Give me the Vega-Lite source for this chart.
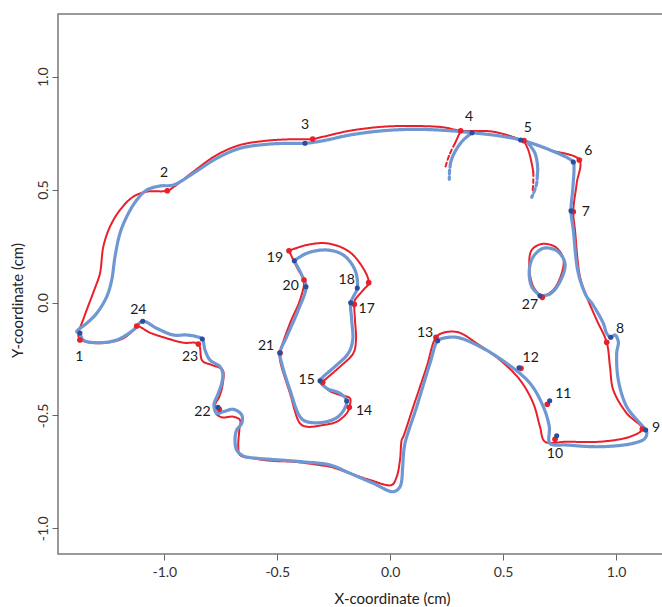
{
"$schema":"https://vega.github.io/schema/vega-lite/v6.json",
"width":605,"height":540,
"autosize":{"type":"none"},
"padding":{"left":58,"top":14,"right":0,"bottom":53},
"background":"white",
"config":{"view":{"stroke":"#7a7a7a","strokeWidth":1.5},"font":"Lato"},
"datasets":{
"lines":[
{"g":"red","k":"ro","d":"solid","x":-1.3739,"y":-0.1661},{"g":"red","k":"ro","d":"solid","x":-1.381,"y":-0.1439},{"g":"red","k":"ro","d":"solid","x":-1.3547,"y":-0.0629},{"g":"red","k":"ro","d":"solid","x":-1.3104,"y":0.0554},{"g":"red","k":"ro","d":"solid","x":-1.2849,"y":0.1293},{"g":"red","k":"ro","d":"solid","x":-1.2703,"y":0.2471},{"g":"red","k":"ro","d":"solid","x":-1.2407,"y":0.3357},{"g":"red","k":"ro","d":"solid","x":-1.1964,"y":0.4097},{"g":"red","k":"ro","d":"solid","x":-1.1375,"y":0.4686},{"g":"red","k":"ro","d":"solid","x":-1.0781,"y":0.4907},{"g":"red","k":"ro","d":"solid","x":-0.9869,"y":0.4951},{"g":"red","k":"ro","d":"solid","x":-0.9528,"y":0.5159},{"g":"red","k":"ro","d":"solid","x":-0.8718,"y":0.5793},{"g":"red","k":"ro","d":"solid","x":-0.7682,"y":0.6532},{"g":"red","k":"ro","d":"solid","x":-0.665,"y":0.6975},{"g":"red","k":"ro","d":"solid","x":-0.5468,"y":0.7166},{"g":"red","k":"ro","d":"solid","x":-0.4437,"y":0.7228},{"g":"red","k":"ro","d":"solid","x":-0.3431,"y":0.7241},{"g":"red","k":"ro","d":"solid","x":-0.2962,"y":0.7343},{"g":"red","k":"ro","d":"solid","x":-0.178,"y":0.7608},{"g":"red","k":"ro","d":"solid","x":-0.0306,"y":0.7786},{"g":"red","k":"ro","d":"solid","x":0.1173,"y":0.7817},{"g":"red","k":"ro","d":"solid","x":0.2351,"y":0.7759},{"g":"red","k":"ro","d":"solid","x":0.3122,"y":0.7608},{"g":"red","k":"ro","d":"solid","x":0.4565,"y":0.7564},{"g":"red","k":"ro","d":"solid","x":0.5924,"y":0.7166},{"g":"red","k":"ro","d":"solid","x":0.7076,"y":0.6754},{"g":"red","k":"ro","d":"solid","x":0.8373,"y":0.6311},{"g":"red","k":"ro","d":"solid","x":0.8258,"y":0.5279},{"g":"red","k":"ro","d":"solid","x":0.8107,"y":0.4021},{"g":"red","k":"ro","d":"solid","x":0.8182,"y":0.3211},{"g":"red","k":"ro","d":"solid","x":0.8404,"y":0.1143},{"g":"red","k":"ro","d":"solid","x":0.87,"y":0.0257},{"g":"red","k":"ro","d":"solid","x":0.9143,"y":-0.0775},{"g":"red","k":"ro","d":"solid","x":0.9586,"y":-0.1763},{"g":"red","k":"ro","d":"solid","x":0.9732,"y":-0.2843},{"g":"red","k":"ro","d":"solid","x":0.9878,"y":-0.3875},{"g":"red","k":"ro","d":"solid","x":1.0472,"y":-0.4907},{"g":"red","k":"ro","d":"solid","x":1.1162,"y":-0.5602},{"g":"red","k":"ro","d":"solid","x":1.0618,"y":-0.5943},{"g":"red","k":"ro","d":"solid","x":0.9289,"y":-0.6165},{"g":"red","k":"ro","d":"solid","x":0.7815,"y":-0.6165},{"g":"red","k":"ro","d":"solid","x":0.6854,"y":-0.6165},{"g":"red","k":"ro","d":"solid","x":0.6632,"y":-0.55},{"g":"red","k":"ro","d":"solid","x":0.6336,"y":-0.4464},{"g":"red","k":"ro","d":"solid","x":0.5747,"y":-0.3432},{"g":"red","k":"ro","d":"solid","x":0.4862,"y":-0.2547},{"g":"red","k":"ro","d":"solid","x":0.383,"y":-0.1807},{"g":"red","k":"ro","d":"solid","x":0.3015,"y":-0.132},{"g":"red","k":"ro","d":"solid","x":0.2351,"y":-0.1337},{"g":"red","k":"ro","d":"solid","x":0.2028,"y":-0.1541},{"g":"red","k":"ro","d":"solid","x":0.1616,"y":-0.2843},{"g":"red","k":"ro","d":"solid","x":0.1023,"y":-0.4615},{"g":"red","k":"ro","d":"solid","x":0.058,"y":-0.5943},{"g":"red","k":"ro","d":"solid","x":0.0509,"y":-0.609},{"g":"red","k":"ro","d":"solid","x":0.0434,"y":-0.6975},{"g":"red","k":"ro","d":"solid","x":0.0288,"y":-0.7715},{"g":"red","k":"ro","d":"solid","x":0.0066,"y":-0.8082},{"g":"red","k":"ro","d":"solid","x":-0.0894,"y":-0.7861},{"g":"red","k":"ro","d":"solid","x":-0.178,"y":-0.7564},{"g":"red","k":"ro","d":"solid","x":-0.2665,"y":-0.7272},{"g":"red","k":"ro","d":"solid","x":-0.3086,"y":-0.7205},{"g":"red","k":"ro","d":"solid","x":-0.4206,"y":-0.7059},{"g":"red","k":"ro","d":"solid","x":-0.5322,"y":-0.7006},{"g":"red","k":"ro","d":"solid","x":-0.6062,"y":-0.69},{"g":"red","k":"ro","d":"solid","x":-0.665,"y":-0.6754},{"g":"red","k":"ro","d":"solid","x":-0.6726,"y":-0.6386},{"g":"red","k":"ro","d":"solid","x":-0.6681,"y":-0.5647},{"g":"red","k":"ro","d":"solid","x":-0.665,"y":-0.5204},{"g":"red","k":"ro","d":"solid","x":-0.6947,"y":-0.5058},{"g":"red","k":"ro","d":"solid","x":-0.7461,"y":-0.5084},{"g":"red","k":"ro","d":"solid","x":-0.7713,"y":-0.4907},{"g":"red","k":"ro","d":"solid","x":-0.7757,"y":-0.4539},{"g":"red","k":"ro","d":"solid","x":-0.7567,"y":-0.4172},{"g":"red","k":"ro","d":"solid","x":-0.7416,"y":-0.3609},{"g":"red","k":"ro","d":"solid","x":-0.7416,"y":-0.2989},{"g":"red","k":"ro","d":"solid","x":-0.789,"y":-0.2768},{"g":"red","k":"ro","d":"solid","x":-0.832,"y":-0.2578},{"g":"red","k":"ro","d":"solid","x":-0.8497,"y":-0.1838},{"g":"red","k":"ro","d":"solid","x":-0.9161,"y":-0.178},{"g":"red","k":"ro","d":"solid","x":-0.9896,"y":-0.1585},{"g":"red","k":"ro","d":"solid","x":-1.0635,"y":-0.1337},{"g":"red","k":"ro","d":"solid","x":-1.1224,"y":-0.1041},{"g":"red","k":"ro","d":"solid","x":-1.1375,"y":-0.1218},{"g":"red","k":"ro","d":"solid","x":-1.1818,"y":-0.1585},{"g":"red","k":"ro","d":"solid","x":-1.2553,"y":-0.178},{"g":"red","k":"ro","d":"solid","x":-1.3292,"y":-0.178},{"g":"red","k":"ro","d":"solid","x":-1.3739,"y":-0.1661},
{"g":"red","k":"ri","d":"solid","x":-0.4481,"y":0.2294},{"g":"red","k":"ri","d":"solid","x":-0.3697,"y":0.2546},{"g":"red","k":"ri","d":"solid","x":-0.2812,"y":0.2622},{"g":"red","k":"ri","d":"solid","x":-0.1926,"y":0.2325},{"g":"red","k":"ri","d":"solid","x":-0.1337,"y":0.1736},{"g":"red","k":"ri","d":"solid","x":-0.0952,"y":0.0877},{"g":"red","k":"ri","d":"solid","x":-0.1191,"y":0.0554},{"g":"red","k":"ri","d":"solid","x":-0.1559,"y":0.0111},{"g":"red","k":"ri","d":"solid","x":-0.159,"y":-0.008},{"g":"red","k":"ri","d":"solid","x":-0.1559,"y":-0.0775},{"g":"red","k":"ri","d":"solid","x":-0.1514,"y":-0.1661},{"g":"red","k":"ri","d":"solid","x":-0.1634,"y":-0.225},{"g":"red","k":"ri","d":"solid","x":-0.2223,"y":-0.2843},{"g":"red","k":"ri","d":"solid","x":-0.2812,"y":-0.3357},{"g":"red","k":"ri","d":"solid","x":-0.2989,"y":-0.3534},{"g":"red","k":"ri","d":"solid","x":-0.2741,"y":-0.3875},{"g":"red","k":"ri","d":"solid","x":-0.2223,"y":-0.4097},{"g":"red","k":"ri","d":"solid","x":-0.178,"y":-0.4243},{"g":"red","k":"ri","d":"solid","x":-0.1811,"y":-0.4641},{"g":"red","k":"ri","d":"solid","x":-0.1926,"y":-0.4907},{"g":"red","k":"ri","d":"solid","x":-0.2369,"y":-0.5279},{"g":"red","k":"ri","d":"solid","x":-0.2962,"y":-0.5425},{"g":"red","k":"ri","d":"solid","x":-0.3697,"y":-0.55},{"g":"red","k":"ri","d":"solid","x":-0.3994,"y":-0.535},{"g":"red","k":"ri","d":"solid","x":-0.4437,"y":-0.4021},{"g":"red","k":"ri","d":"solid","x":-0.4879,"y":-0.2547},{"g":"red","k":"ri","d":"solid","x":-0.4879,"y":-0.2236},{"g":"red","k":"ri","d":"solid","x":-0.4437,"y":-0.0921},{"g":"red","k":"ri","d":"solid","x":-0.3994,"y":0.0111},{"g":"red","k":"ri","d":"solid","x":-0.3817,"y":0.0996},{"g":"red","k":"ri","d":"solid","x":-0.4069,"y":0.1439},{"g":"red","k":"ri","d":"solid","x":-0.429,"y":0.1882},{"g":"red","k":"ri","d":"solid","x":-0.4481,"y":0.2294},
{"g":"red","k":"r27","d":"solid","x":0.6735,"y":0.023},{"g":"red","k":"r27","d":"solid","x":0.6336,"y":0.07},{"g":"red","k":"r27","d":"solid","x":0.6159,"y":0.1585},{"g":"red","k":"r27","d":"solid","x":0.6265,"y":0.2325},{"g":"red","k":"r27","d":"solid","x":0.6708,"y":0.2591},{"g":"red","k":"r27","d":"solid","x":0.7297,"y":0.2471},{"g":"red","k":"r27","d":"solid","x":0.7664,"y":0.1957},{"g":"red","k":"r27","d":"solid","x":0.7594,"y":0.1293},{"g":"red","k":"r27","d":"solid","x":0.7222,"y":0.0554},{"g":"red","k":"r27","d":"solid","x":0.6735,"y":0.023},
{"g":"red","k":"ra4s","d":"solid","x":0.3122,"y":0.7608},{"g":"red","k":"ra4s","d":"solid","x":0.2869,"y":0.705},
{"g":"red","k":"ra4d","d":"dash","x":0.2869,"y":0.705},{"g":"red","k":"ra4d","d":"dash","x":0.2617,"y":0.6532},{"g":"red","k":"ra4d","d":"dash","x":0.2426,"y":0.5943},
{"g":"red","k":"ra5s","d":"solid","x":0.5924,"y":0.7166},{"g":"red","k":"ra5s","d":"solid","x":0.6115,"y":0.6754},{"g":"red","k":"ra5s","d":"solid","x":0.6265,"y":0.6165},{"g":"red","k":"ra5s","d":"solid","x":0.6336,"y":0.578},
{"g":"red","k":"ra5d","d":"dash","x":0.6336,"y":0.578},{"g":"red","k":"ra5d","d":"dash","x":0.6336,"y":0.5337},{"g":"red","k":"ra5d","d":"dash","x":0.6309,"y":0.4982},
{"g":"blue","k":"bo","d":"solid","x":-1.3735,"y":-0.1351},{"g":"blue","k":"bo","d":"solid","x":-1.3881,"y":-0.1293},{"g":"blue","k":"bo","d":"solid","x":-1.3438,"y":-0.0921},{"g":"blue","k":"bo","d":"solid","x":-1.2995,"y":-0.0478},{"g":"blue","k":"bo","d":"solid","x":-1.2553,"y":0.0257},{"g":"blue","k":"bo","d":"solid","x":-1.2331,"y":0.0996},{"g":"blue","k":"bo","d":"solid","x":-1.2185,"y":0.2028},{"g":"blue","k":"bo","d":"solid","x":-1.1964,"y":0.3065},{"g":"blue","k":"bo","d":"solid","x":-1.1667,"y":0.38},{"g":"blue","k":"bo","d":"solid","x":-1.1224,"y":0.4539},{"g":"blue","k":"bo","d":"solid","x":-1.0781,"y":0.4982},{"g":"blue","k":"bo","d":"solid","x":-1.0193,"y":0.5159},{"g":"blue","k":"bo","d":"solid","x":-0.9604,"y":0.5204},{"g":"blue","k":"bo","d":"solid","x":-0.8718,"y":0.5722},{"g":"blue","k":"bo","d":"solid","x":-0.7682,"y":0.6386},{"g":"blue","k":"bo","d":"solid","x":-0.665,"y":0.6829},{"g":"blue","k":"bo","d":"solid","x":-0.5468,"y":0.7006},{"g":"blue","k":"bo","d":"solid","x":-0.4437,"y":0.7051},{"g":"blue","k":"bo","d":"solid","x":-0.3773,"y":0.7051},{"g":"blue","k":"bo","d":"solid","x":-0.2962,"y":0.7166},{"g":"blue","k":"bo","d":"solid","x":-0.178,"y":0.7418},{"g":"blue","k":"bo","d":"solid","x":-0.0306,"y":0.7608},{"g":"blue","k":"bo","d":"solid","x":0.1173,"y":0.767},{"g":"blue","k":"bo","d":"solid","x":0.2648,"y":0.7608},{"g":"blue","k":"bo","d":"solid","x":0.3622,"y":0.752},{"g":"blue","k":"bo","d":"solid","x":0.4862,"y":0.7374},{"g":"blue","k":"bo","d":"solid","x":0.5778,"y":0.7197},{"g":"blue","k":"bo","d":"solid","x":0.7076,"y":0.6754},{"g":"blue","k":"bo","d":"solid","x":0.8107,"y":0.6222},{"g":"blue","k":"bo","d":"solid","x":0.8138,"y":0.6014},{"g":"blue","k":"bo","d":"solid","x":0.8081,"y":0.4982},{"g":"blue","k":"bo","d":"solid","x":0.8005,"y":0.4066},{"g":"blue","k":"bo","d":"solid","x":0.8107,"y":0.3211},{"g":"blue","k":"bo","d":"solid","x":0.8329,"y":0.1293},{"g":"blue","k":"bo","d":"solid","x":0.87,"y":0.0257},{"g":"blue","k":"bo","d":"solid","x":0.8922,"y":-0.0022},{"g":"blue","k":"bo","d":"solid","x":0.9436,"y":-0.0921},{"g":"blue","k":"bo","d":"solid","x":0.9586,"y":-0.1364},{"g":"blue","k":"bo","d":"solid","x":0.9763,"y":-0.1541},{"g":"blue","k":"bo","d":"solid","x":0.9953,"y":-0.1439},{"g":"blue","k":"bo","d":"solid","x":1.01,"y":-0.1736},{"g":"blue","k":"bo","d":"solid","x":1.0029,"y":-0.225},{"g":"blue","k":"bo","d":"solid","x":1.01,"y":-0.3432},{"g":"blue","k":"bo","d":"solid","x":1.0472,"y":-0.4615},{"g":"blue","k":"bo","d":"solid","x":1.106,"y":-0.535},{"g":"blue","k":"bo","d":"solid","x":1.1357,"y":-0.5722},{"g":"blue","k":"bo","d":"solid","x":1.1282,"y":-0.6014},{"g":"blue","k":"bo","d":"solid","x":1.0764,"y":-0.6236},{"g":"blue","k":"bo","d":"solid","x":0.9289,"y":-0.6386},{"g":"blue","k":"bo","d":"solid","x":0.7815,"y":-0.6311},{"g":"blue","k":"bo","d":"solid","x":0.7076,"y":-0.6236},{"g":"blue","k":"bo","d":"solid","x":0.7044,"y":-0.55},{"g":"blue","k":"bo","d":"solid","x":0.6779,"y":-0.4615},{"g":"blue","k":"bo","d":"solid","x":0.619,"y":-0.3578},{"g":"blue","k":"bo","d":"solid","x":0.5158,"y":-0.2693},{"g":"blue","k":"bo","d":"solid","x":0.3976,"y":-0.1957},{"g":"blue","k":"bo","d":"solid","x":0.2944,"y":-0.1541},{"g":"blue","k":"bo","d":"solid","x":0.2351,"y":-0.1585},{"g":"blue","k":"bo","d":"solid","x":0.2103,"y":-0.1692},{"g":"blue","k":"bo","d":"solid","x":0.1762,"y":-0.2693},{"g":"blue","k":"bo","d":"solid","x":0.1173,"y":-0.4615},{"g":"blue","k":"bo","d":"solid","x":0.0655,"y":-0.6236},{"g":"blue","k":"bo","d":"solid","x":0.058,"y":-0.6829},{"g":"blue","k":"bo","d":"solid","x":0.0553,"y":-0.7272},{"g":"blue","k":"bo","d":"solid","x":0.0434,"y":-0.8158},{"g":"blue","k":"bo","d":"solid","x":0.0137,"y":-0.8379},{"g":"blue","k":"bo","d":"solid","x":-0.0748,"y":-0.8007},{"g":"blue","k":"bo","d":"solid","x":-0.178,"y":-0.7564},{"g":"blue","k":"bo","d":"solid","x":-0.2665,"y":-0.7197},{"g":"blue","k":"bo","d":"solid","x":-0.3834,"y":-0.7059},{"g":"blue","k":"bo","d":"solid","x":-0.5322,"y":-0.6944},{"g":"blue","k":"bo","d":"solid","x":-0.5911,"y":-0.69},{"g":"blue","k":"bo","d":"solid","x":-0.6504,"y":-0.6798},{"g":"blue","k":"bo","d":"solid","x":-0.6797,"y":-0.6532},{"g":"blue","k":"bo","d":"solid","x":-0.6872,"y":-0.6089},{"g":"blue","k":"bo","d":"solid","x":-0.6797,"y":-0.5647},{"g":"blue","k":"bo","d":"solid","x":-0.6575,"y":-0.535},{"g":"blue","k":"bo","d":"solid","x":-0.6575,"y":-0.4982},{"g":"blue","k":"bo","d":"solid","x":-0.6947,"y":-0.473},{"g":"blue","k":"bo","d":"solid","x":-0.739,"y":-0.4836},{"g":"blue","k":"bo","d":"solid","x":-0.7682,"y":-0.4907},{"g":"blue","k":"bo","d":"solid","x":-0.7802,"y":-0.4539},{"g":"blue","k":"bo","d":"solid","x":-0.7611,"y":-0.4021},{"g":"blue","k":"bo","d":"solid","x":-0.7461,"y":-0.3578},{"g":"blue","k":"bo","d":"solid","x":-0.7416,"y":-0.3136},{"g":"blue","k":"bo","d":"solid","x":-0.7536,"y":-0.2843},{"g":"blue","k":"bo","d":"solid","x":-0.7979,"y":-0.2547},{"g":"blue","k":"bo","d":"solid","x":-0.82,"y":-0.2104},{"g":"blue","k":"bo","d":"solid","x":-0.832,"y":-0.1616},{"g":"blue","k":"bo","d":"solid","x":-0.8568,"y":-0.1515},{"g":"blue","k":"bo","d":"solid","x":-0.901,"y":-0.1439},{"g":"blue","k":"bo","d":"solid","x":-0.9604,"y":-0.1439},{"g":"blue","k":"bo","d":"solid","x":-1.0339,"y":-0.1143},{"g":"blue","k":"bo","d":"solid","x":-1.0959,"y":-0.0833},{"g":"blue","k":"bo","d":"solid","x":-1.1375,"y":-0.1218},{"g":"blue","k":"bo","d":"solid","x":-1.211,"y":-0.1661},{"g":"blue","k":"bo","d":"solid","x":-1.2995,"y":-0.178},{"g":"blue","k":"bo","d":"solid","x":-1.359,"y":-0.1661},{"g":"blue","k":"bo","d":"solid","x":-1.3735,"y":-0.1351},
{"g":"blue","k":"bi","d":"solid","x":-0.4246,"y":0.1851},{"g":"blue","k":"bi","d":"solid","x":-0.3697,"y":0.2179},{"g":"blue","k":"bi","d":"solid","x":-0.2812,"y":0.2325},{"g":"blue","k":"bi","d":"solid","x":-0.2077,"y":0.2104},{"g":"blue","k":"bi","d":"solid","x":-0.1559,"y":0.1439},{"g":"blue","k":"bi","d":"solid","x":-0.1457,"y":0.0642},{"g":"blue","k":"bi","d":"solid","x":-0.1634,"y":0.0257},{"g":"blue","k":"bi","d":"solid","x":-0.1749,"y":-0.0009},{"g":"blue","k":"bi","d":"solid","x":-0.1705,"y":-0.0775},{"g":"blue","k":"bi","d":"solid","x":-0.166,"y":-0.1661},{"g":"blue","k":"bi","d":"solid","x":-0.1855,"y":-0.225},{"g":"blue","k":"bi","d":"solid","x":-0.2369,"y":-0.2768},{"g":"blue","k":"bi","d":"solid","x":-0.2962,"y":-0.3286},{"g":"blue","k":"bi","d":"solid","x":-0.3108,"y":-0.3463},{"g":"blue","k":"bi","d":"solid","x":-0.2812,"y":-0.38},{"g":"blue","k":"bi","d":"solid","x":-0.2223,"y":-0.4021},{"g":"blue","k":"bi","d":"solid","x":-0.1926,"y":-0.4362},{"g":"blue","k":"bi","d":"solid","x":-0.2223,"y":-0.4982},{"g":"blue","k":"bi","d":"solid","x":-0.2812,"y":-0.5279},{"g":"blue","k":"bi","d":"solid","x":-0.3697,"y":-0.5279},{"g":"blue","k":"bi","d":"solid","x":-0.3994,"y":-0.5058},{"g":"blue","k":"bi","d":"solid","x":-0.4437,"y":-0.3875},{"g":"blue","k":"bi","d":"solid","x":-0.4804,"y":-0.2693},{"g":"blue","k":"bi","d":"solid","x":-0.4879,"y":-0.2223},{"g":"blue","k":"bi","d":"solid","x":-0.4583,"y":-0.1515},{"g":"blue","k":"bi","d":"solid","x":-0.4069,"y":-0.0332},{"g":"blue","k":"bi","d":"solid","x":-0.3728,"y":0.07},{"g":"blue","k":"bi","d":"solid","x":-0.3919,"y":0.1218},{"g":"blue","k":"bi","d":"solid","x":-0.4246,"y":0.1851},
{"g":"blue","k":"b27","d":"solid","x":0.6633,"y":0.0301},{"g":"blue","k":"b27","d":"solid","x":0.6265,"y":0.07},{"g":"blue","k":"b27","d":"solid","x":0.6159,"y":0.1439},{"g":"blue","k":"b27","d":"solid","x":0.6336,"y":0.2028},{"g":"blue","k":"b27","d":"solid","x":0.6779,"y":0.24},{"g":"blue","k":"b27","d":"solid","x":0.7372,"y":0.2294},{"g":"blue","k":"b27","d":"solid","x":0.774,"y":0.1736},{"g":"blue","k":"b27","d":"solid","x":0.7518,"y":0.0921},{"g":"blue","k":"b27","d":"solid","x":0.7076,"y":0.0376},{"g":"blue","k":"b27","d":"solid","x":0.6633,"y":0.0301},
{"g":"blue","k":"ba4s","d":"solid","x":0.3622,"y":0.752},{"g":"blue","k":"ba4s","d":"solid","x":0.3166,"y":0.7121},{"g":"blue","k":"ba4s","d":"solid","x":0.2794,"y":0.6532},{"g":"blue","k":"ba4s","d":"solid","x":0.267,"y":0.618},
{"g":"blue","k":"ba4d","d":"dash","x":0.267,"y":0.618},{"g":"blue","k":"ba4d","d":"dash","x":0.2626,"y":0.578},{"g":"blue","k":"ba4d","d":"dash","x":0.2617,"y":0.5456},
{"g":"blue","k":"ba5s","d":"solid","x":0.6115,"y":0.705},{"g":"blue","k":"ba5s","d":"solid","x":0.6411,"y":0.6608},{"g":"blue","k":"ba5s","d":"solid","x":0.6531,"y":0.5943},{"g":"blue","k":"ba5s","d":"solid","x":0.6513,"y":0.5646},
{"g":"blue","k":"ba5d","d":"dash","x":0.6513,"y":0.5646},{"g":"blue","k":"ba5d","d":"dash","x":0.6487,"y":0.5279},{"g":"blue","k":"ba5d","d":"dash","x":0.6367,"y":0.4894},{"g":"blue","k":"ba5d","d":"dash","x":0.6265,"y":0.4659}
],
"pts":[
{"g":"red","n":"1","x":-1.3739,"y":-0.1661},{"g":"red","n":"2","x":-0.9869,"y":0.4951},{"g":"red","n":"3","x":-0.3431,"y":0.7241},{"g":"red","n":"4","x":0.3122,"y":0.7608},{"g":"red","n":"5","x":0.5924,"y":0.7166},{"g":"red","n":"6","x":0.8373,"y":0.6311},{"g":"red","n":"7","x":0.8107,"y":0.4021},{"g":"red","n":"8","x":0.9586,"y":-0.1763},{"g":"red","n":"9","x":1.1162,"y":-0.5602},{"g":"red","n":"10","x":0.7297,"y":-0.6058},{"g":"red","n":"11","x":0.6956,"y":-0.4508},{"g":"red","n":"12","x":0.5791,"y":-0.2914},{"g":"red","n":"13","x":0.2028,"y":-0.1541},{"g":"red","n":"14","x":-0.1811,"y":-0.4641},{"g":"red","n":"15","x":-0.2989,"y":-0.3534},{"g":"red","n":"17","x":-0.159,"y":-0.008},{"g":"red","n":"18","x":-0.0952,"y":0.0877},{"g":"red","n":"19","x":-0.4481,"y":0.2294},{"g":"red","n":"20","x":-0.3817,"y":0.0996},{"g":"red","n":"21","x":-0.4879,"y":-0.2236},{"g":"red","n":"22","x":-0.7567,"y":-0.473},{"g":"red","n":"23","x":-0.8497,"y":-0.1838},{"g":"red","n":"24","x":-1.1224,"y":-0.1041},{"g":"red","n":"27","x":0.6735,"y":0.023},
{"g":"blue","n":"1","x":-1.3739,"y":-0.1351},{"g":"blue","n":"3","x":-0.3773,"y":0.7051},{"g":"blue","n":"4","x":0.3622,"y":0.752},{"g":"blue","n":"5","x":0.5778,"y":0.7197},{"g":"blue","n":"6","x":0.8107,"y":0.6222},{"g":"blue","n":"7","x":0.8005,"y":0.4066},{"g":"blue","n":"8","x":0.9763,"y":-0.1541},{"g":"blue","n":"9","x":1.1313,"y":-0.5646},{"g":"blue","n":"10","x":0.7372,"y":-0.5899},{"g":"blue","n":"11","x":0.7062,"y":-0.4349},{"g":"blue","n":"12","x":0.5703,"y":-0.2887},{"g":"blue","n":"13","x":0.2103,"y":-0.1692},{"g":"blue","n":"14","x":-0.1926,"y":-0.4362},{"g":"blue","n":"15","x":-0.3108,"y":-0.3463},{"g":"blue","n":"17","x":-0.1749,"y":-0.0009},{"g":"blue","n":"18","x":-0.1457,"y":0.0642},{"g":"blue","n":"19","x":-0.4246,"y":0.1851},{"g":"blue","n":"20","x":-0.3728,"y":0.07},{"g":"blue","n":"21","x":-0.4879,"y":-0.2223},{"g":"blue","n":"22","x":-0.7624,"y":-0.4641},{"g":"blue","n":"23","x":-0.832,"y":-0.1616},{"g":"blue","n":"24","x":-1.0959,"y":-0.0833},{"g":"blue","n":"27","x":0.6633,"y":0.0301}
],
"labels":[
{"n":"1","x":-1.3767,"y":-0.24},{"n":"2","x":-1.0016,"y":0.5722},{"n":"3","x":-0.3773,"y":0.7861},{"n":"4","x":0.3489,"y":0.8202},{"n":"5","x":0.6088,"y":0.7715},{"n":"6","x":0.8771,"y":0.6723},{"n":"7","x":0.8656,"y":0.4021},{"n":"8","x":1.0175,"y":-0.1187},{"n":"9","x":1.1769,"y":-0.5545},{"n":"10","x":0.7297,"y":-0.6723},{"n":"11","x":0.7664,"y":-0.4066},{"n":"12","x":0.6221,"y":-0.2471},{"n":"13","x":0.1541,"y":-0.1337},{"n":"14","x":-0.116,"y":-0.4792},{"n":"15","x":-0.3697,"y":-0.3432},{"n":"17","x":-0.1041,"y":-0.0301},{"n":"18","x":-0.1926,"y":0.0996},{"n":"19","x":-0.5101,"y":0.1957},{"n":"20","x":-0.4406,"y":0.0731},{"n":"21","x":-0.5499,"y":-0.1926},{"n":"22","x":-0.8311,"y":-0.4849},{"n":"23","x":-0.8864,"y":-0.24},{"n":"24","x":-1.1153,"y":-0.0332},{"n":"27","x":0.619,"y":-0.0111}
]
},
"encoding":{
"x":{"field":"x","type":"quantitative","scale":{"domain":[-1.4709,1.2079],"nice":false,"zero":false},
"axis":{"title":"X-coordinate (cm)","values":[-1,-0.5,0,0.5,1],"labelExpr":"datum.value < 0 ? '-' + format(-datum.value, '.1f') : format(datum.value, '.1f')","grid":false,"domain":false,"tickSize":6,"tickColor":"#666","tickWidth":1,"labelFont":"Lato","labelFontSize":14,"labelColor":"#333","labelPadding":5,"titleFont":"Lato","titleFontSize":15,"titleFontWeight":"normal","titleColor":"#222","titleX":334,"titleY":44,"titleBaseline":"middle","titleAlign":"center"}},
"y":{"field":"y","type":"quantitative","scale":{"domain":[-1.1138,1.2777],"nice":false,"zero":false},
"axis":{"title":"Y-coordinate (cm)","values":[-1,-0.5,0,0.5,1],"labelExpr":"datum.value < 0 ? '-' + format(-datum.value, '.1f') : format(datum.value, '.1f')","grid":false,"domain":false,"tickSize":6,"tickColor":"#666","tickWidth":1,"labelAngle":-90,"labelAlign":"center","labelBaseline":"alphabetic","labelFont":"Lato","labelFontSize":14,"labelColor":"#333","labelPadding":5,"titleFont":"Lato","titleFontSize":15,"titleFontWeight":"normal","titleColor":"#222","titleAngle":-90,"titleX":-41,"titleY":286,"titleBaseline":"middle","titleAlign":"center"}}
},
"layer":[
{"data":{"name":"lines"},"transform":[{"filter":"datum.g === 'red'"}],
"mark":{"type":"line","interpolate":"catmull-rom","strokeWidth":2,"color":"#e8202a","strokeCap":"round"},
"encoding":{"detail":{"field":"k","type":"nominal"},"order":{"value":null},"strokeDash":{"field":"d","type":"nominal","scale":{"domain":["solid","dash"],"range":[[1,0],[4,3]]},"legend":null}}},
{"data":{"name":"lines"},"transform":[{"filter":"datum.g === 'blue'"}],
"mark":{"type":"line","interpolate":"catmull-rom","strokeWidth":3.2,"color":"#6f98d3","strokeCap":"round"},
"encoding":{"detail":{"field":"k","type":"nominal"},"order":{"value":null},"strokeDash":{"field":"d","type":"nominal","scale":{"domain":["solid","dash"],"range":[[1,0],[3,4]]},"legend":null}}},
{"data":{"name":"pts"},"transform":[{"filter":"datum.g === 'red'"}],
"mark":{"type":"circle","size":32,"color":"#e8202a","opacity":1}},
{"data":{"name":"pts"},"transform":[{"filter":"datum.g === 'blue'"}],
"mark":{"type":"circle","size":26,"color":"#2a4d9c","opacity":1}},
{"data":{"name":"labels"},
"mark":{"type":"text","font":"Lato","fontSize":14,"color":"#1a1a1a","align":"center","baseline":"middle"},
"encoding":{"text":{"field":"n","type":"nominal"}}}
]
}
